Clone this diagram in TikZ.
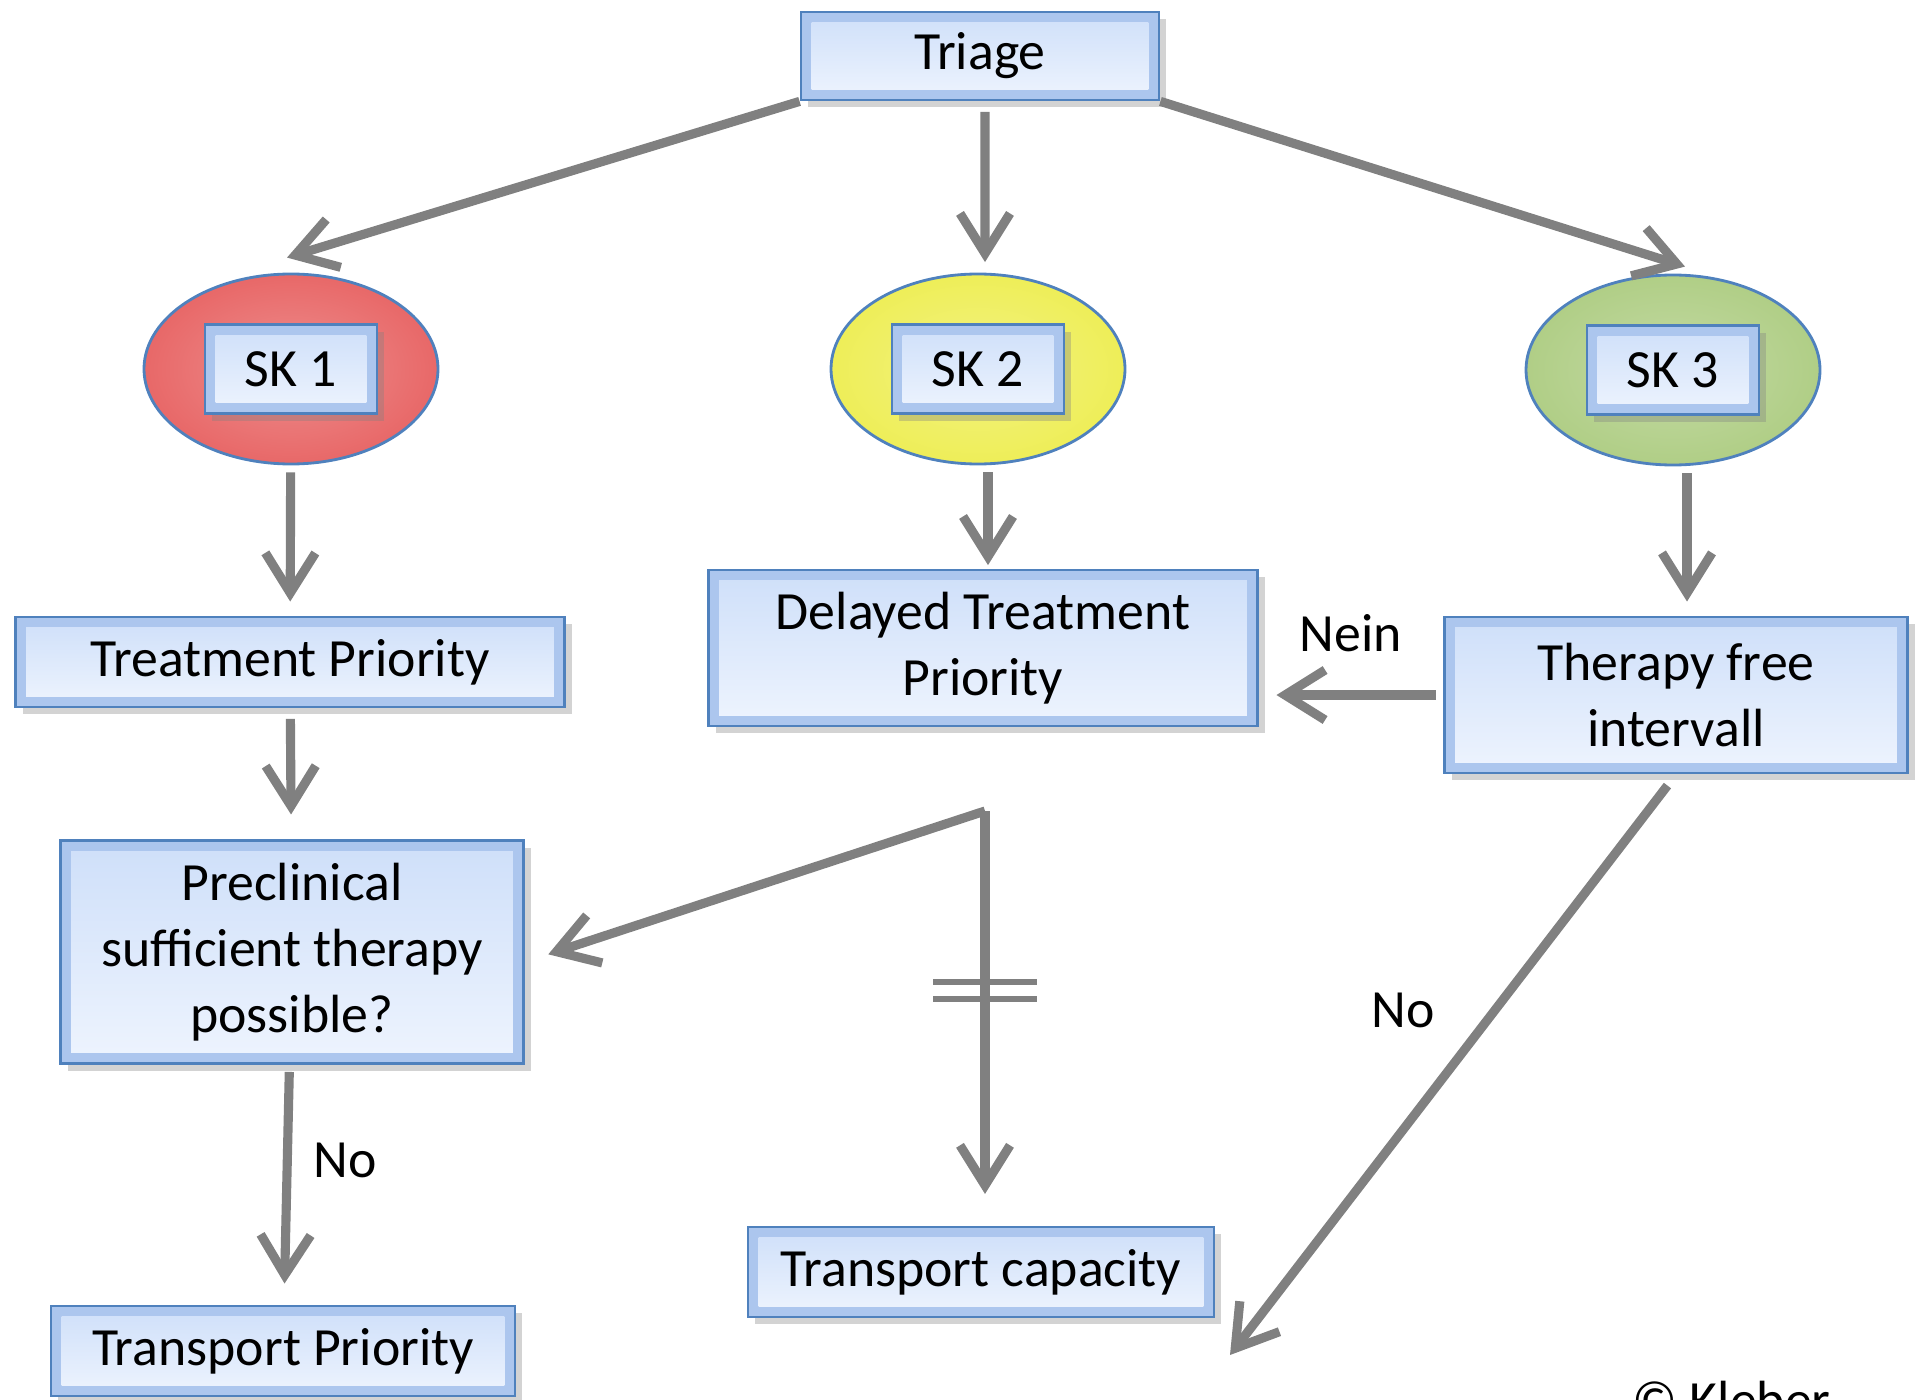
\documentclass[tikz,border=0pt]{standalone}
\usepackage{fontspec}
\setmainfont{Carlito}
\usetikzlibrary{positioning,arrows.meta,shadows,shapes}
\definecolor{arrgray}{RGB}{128,128,128}
\definecolor{boxline}{RGB}{79,129,189}
\definecolor{boxedge}{RGB}{172,198,238}
\definecolor{boxface}{RGB}{206,223,249}
\definecolor{boxlow}{RGB}{238,244,254}
\definecolor{skred}{RGB}{232,104,104}
\definecolor{skyellow}{RGB}{238,238,88}
\definecolor{skgreen}{RGB}{176,206,134}
\tikzstyle{blk}=[draw=boxline, thick, fill=boxedge, minimum height=0.9cm, align=center,
  drop shadow={shadow xshift=2pt, shadow yshift=-2pt, opacity=0.35},
  path picture={\fill[top color=boxface, bottom color=boxlow]
    ([shift={(3pt,-3pt)}]path picture bounding box.north west) rectangle
    ([shift={(-3pt,3pt)}]path picture bounding box.south east);}]
\tikzstyle{sk}=[ellipse, draw=boxline, thick, minimum width=2.94cm, minimum height=1.9cm]
\tikzstyle{arr}=[-{Straight Barb[length=4mm,width=5mm]}, line width=2.6pt, draw=arrgray]
\tikzstyle{bar}=[draw=arrgray, line width=1.6pt]

\begin{document}
\begin{tikzpicture}[node distance=2cm,auto,font=\fontsize{15.3}{18.8}\selectfont]
\useasboundingbox (0,0) rectangle (19.17,13.99);
\node[blk, minimum width=3.58cm, minimum height=0.88cm] at (9.80,13.43) (triage) {Triage};

% Sichtungskategorien
\node[sk, inner color=skred!75!white, outer color=skred] at (2.91,10.30) (sk1) {};
\node[blk, minimum width=1.72cm, minimum height=0.89cm] at (sk1.center) (lab1) {SK 1};
\node[sk, inner color=skyellow!75!white, outer color=skyellow] at (9.78,10.30) (sk2) {};
\node[blk, minimum width=1.72cm, minimum height=0.89cm] at (sk2.center) (lab2) {SK 2};
\node[sk, inner color=skgreen!75!white, outer color=skgreen] at (16.73,10.29) (sk3) {};
\node[blk, minimum width=1.72cm, minimum height=0.89cm] at (sk3.center) (lab3) {SK 3};

\draw[arr] (triage.south west) -- ([xshift=-0.04cm, yshift=0.15cm]sk1.north);
\draw[arr, shorten <=3pt, shorten >=3pt] ([xshift=0.05cm]triage.south) -- ([xshift=0.07cm]sk2.north);
\draw[arr] (triage.south east) -- ([xshift=0.12cm, yshift=0.07cm]sk3.north);

\node[blk, minimum width=5.49cm] at (2.90,7.37) (treat) {Treatment Priority};
\node[blk, minimum width=5.49cm, minimum height=1.56cm] at (9.83,7.51) (delay) {Delayed Treatment\\Priority};
\node[blk, minimum width=4.63cm, minimum height=1.56cm] at (16.76,7.04) (free) {Therapy free\\intervall};

\draw[arr, shorten <=2pt, shorten >=4pt] (sk1) -- (treat);
\draw[arr, shorten <=2pt, shorten >=1pt] ([xshift=0.1cm]sk2.south) -- ([xshift=0.1cm]sk2.south |- delay.north);
\draw[arr, shorten <=2pt, shorten >=4pt] ([xshift=0.14cm]sk3.south) -- ([xshift=0.14cm]sk3.south |- free.north);

\node[blk, minimum width=4.63cm, minimum height=2.23cm] at (2.92,4.47) (precl) {Preclinical\\sufficient therapy\\possible?};
\node[blk, minimum width=4.64cm] at (2.83,0.48) (tprio) {Transport Priority};
\node[blk, minimum width=4.66cm] at (9.81,1.27) (tcap) {Transport capacity};

\draw[arr, shorten <=3pt, shorten >=7pt] (treat) -- (precl);
\draw[arr, shorten <=2pt, shorten >=5pt] (free.west) -- node[above, yshift=0.27cm] (nein) {Nein} (free.west -| delay.east);

\coordinate (split) at (9.85,5.88);
\draw[arr, shorten >=7pt] (split) -- ([yshift=-0.1cm]precl.east);
\draw[arr, shorten >=9pt] (split) -- coordinate[pos=0.433] (cut) (split |- tcap.north);
\draw[bar] ([shift={(-0.52,0.085)}]cut) -- ([shift={(0.52,0.085)}]cut);
\draw[bar] ([shift={(-0.52,-0.085)}]cut) -- ([shift={(0.52,-0.085)}]cut);

\draw[arr, shorten <=2pt, shorten >=6pt] (precl) -- node[right, pos=0.4, xshift=0.1cm] (no2) {No} (tprio);

\coordinate (loose) at (12.30,0.44);
\draw[arr, shorten <=4pt] (free.south) -- (loose);
\node at (14.03,3.89) (no1) {No};

\node[anchor=north west, inner sep=0pt] at (16.32,0.19) (copy) {© Kleber};
\end{tikzpicture}
\end{document}
